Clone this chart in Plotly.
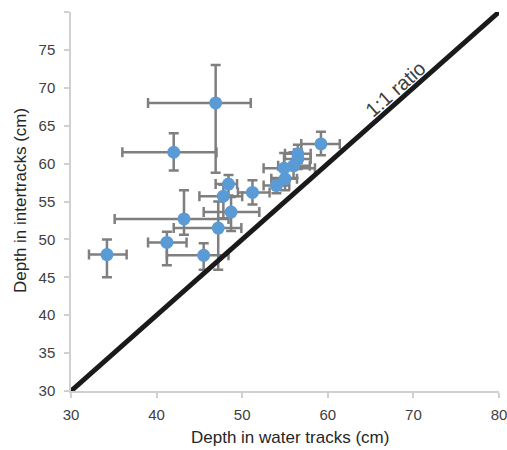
import plotly.graph_objects as go

# Data (cm)
water_depth = [34.2, 41.2, 42.0, 46.9, 43.2, 45.5, 47.2, 48.7, 47.8, 48.4, 51.2, 54.0, 55.0, 54.9, 56.0, 56.5, 56.5, 59.2]
water_err_minus = [2.1, 2.2, 6.0, 7.9, 8.1, 4.3, 5.2, 3.2, 2.8, 1.5, 1.7, 1.5, 1.6, 2.4, 1.8, 1.5, 1.6, 2.3]
water_err_plus = [2.3, 2.3, 5.0, 4.1, 5.2, 2.9, 2.7, 3.3, 2.2, 1.0, 2.0, 1.5, 1.4, 3.6, 1.9, 1.5, 1.5, 2.2]
inter_depth = [48.0, 49.6, 61.5, 68.0, 52.7, 47.9, 51.5, 53.6, 55.7, 57.3, 56.2, 57.1, 58.0, 59.4, 59.7, 61.3, 60.6, 62.6]
inter_err_minus = [3.0, 3.0, 2.4, 9.2, 2.1, 1.9, 5.5, 2.5, 2.9, 1.5, 1.6, 1.0, 1.5, 1.6, 1.6, 1.2, 1.3, 1.5]
inter_err_plus = [2.0, 1.4, 2.5, 5.0, 3.8, 1.6, 3.5, 2.0, 1.5, 1.2, 1.6, 1.0, 1.2, 2.0, 1.8, 1.2, 1.3, 1.6]

ratio_x = [30, 80]
ratio_y = [30, 80]

x_ticks = [30, 40, 50, 60, 70, 80]
y_ticks = [30, 35, 40, 45, 50, 55, 60, 65, 70, 75, 80]
y_ticktext = ["30", "35", "40", "45", "50", "55", "60", "65", "70", "75", ""]

FONT = "Liberation Sans, Arial, sans-serif"
W, H = 507, 450
plot_l, plot_r, plot_t, plot_b = 71, 499, 12, 391

fig = go.Figure()

fig.add_trace(go.Scatter(
    x=water_depth, y=inter_depth, mode="markers",
    marker=dict(color="#5b9bd5", size=13),
    error_x=dict(type="data", symmetric=False, array=water_err_plus, arrayminus=water_err_minus,
                 color="#7f7f7f", thickness=2.5, width=5),
    error_y=dict(type="data", symmetric=False, array=inter_err_plus, arrayminus=inter_err_minus,
                 color="#7f7f7f", thickness=2.5, width=5),
    showlegend=False, cliponaxis=False,
))

fig.add_trace(go.Scatter(
    x=ratio_x, y=ratio_y, mode="lines",
    line=dict(color="#1a1a1a", width=5),
    showlegend=False, cliponaxis=False,
))

fig.add_annotation(
    x=67.9, y=69.9, xref="x", yref="y", text="1:1 ratio", showarrow=False,
    textangle=-41.5, font=dict(family=FONT, size=20, color="#404040"),
)

# Axis titles placed by pixel position converted to paper coordinates
fig.add_annotation(
    x=(290 - plot_l) / (plot_r - plot_l), y=(plot_b - 437) / (plot_b - plot_t),
    xref="paper", yref="paper", xanchor="center", yanchor="middle",
    text="Depth in water tracks (cm)", showarrow=False,
    font=dict(family=FONT, size=17, color="#262626"),
)
fig.add_annotation(
    x=(20 - plot_l) / (plot_r - plot_l), y=(plot_b - 201) / (plot_b - plot_t),
    xref="paper", yref="paper", xanchor="center", yanchor="middle",
    text="Depth in intertracks (cm)", showarrow=False, textangle=-90,
    font=dict(family=FONT, size=17, color="#262626"),
)

fig.update_layout(
    width=W, height=H,
    margin=dict(l=plot_l, r=W - plot_r, t=plot_t, b=H - plot_b, autoexpand=False),
    paper_bgcolor="white", plot_bgcolor="white",
    font=dict(family=FONT, color="#404040"),
)

fig.update_xaxes(
    range=[30, 80], tickvals=x_ticks, showgrid=False, zeroline=False, automargin=False,
    showline=True, linecolor="#d0d0d0", linewidth=1.5,
    ticks="outside", ticklen=5, tickcolor="#d0d0d0", tickwidth=1.5,
    tickfont=dict(family=FONT, size=15, color="#404040"),
    ticklabelstandoff=4, ticklabeloverflow="allow",
)
fig.update_yaxes(
    range=[30, 80], tickvals=y_ticks, ticktext=y_ticktext, showgrid=False, zeroline=False, automargin=False,
    showline=True, linecolor="#d0d0d0", linewidth=1.5,
    ticks="outside", ticklen=5, tickcolor="#d0d0d0", tickwidth=1.5,
    tickfont=dict(family=FONT, size=15, color="#404040"),
    ticklabelstandoff=6,
)

fig.write_html(
    "out.html",
    config={"displayModeBar": False},
    post_script="document.body.style.margin='0';document.body.style.overflow='hidden';",
)
